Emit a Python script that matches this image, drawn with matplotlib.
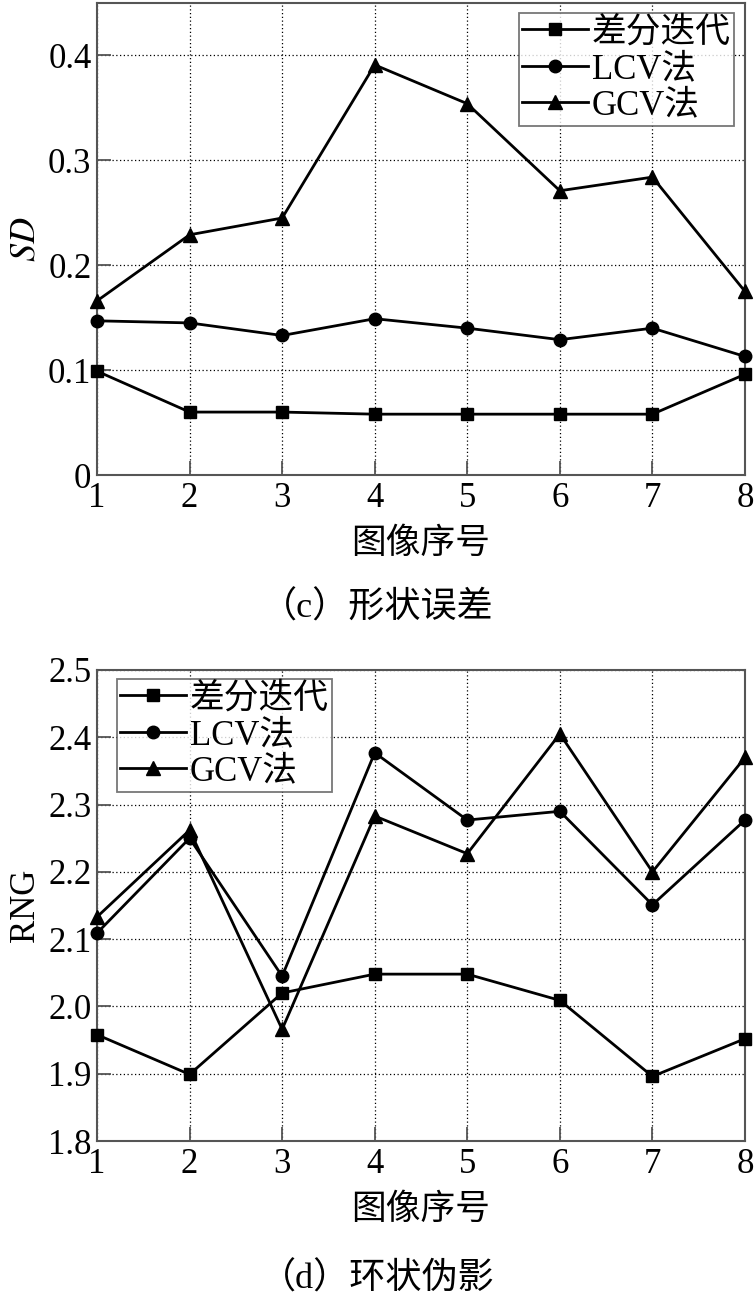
import matplotlib
matplotlib.use('Agg')
import matplotlib.pyplot as plt

plt.rcParams['font.family'] = ['Liberation Serif', 'Noto Sans CJK SC']
plt.rcParams['mathtext.fontset'] = 'stix'

x = [1, 2, 3, 4, 5, 6, 7, 8]
names = ['差分迭代', 'LCV法', 'GCV法']
marks = ['s', 'o', '^']

# (c) 形状误差
sd_diff = [0.099, 0.060, 0.060, 0.058, 0.058, 0.058, 0.058, 0.096]
sd_lcv = [0.147, 0.145, 0.133, 0.149, 0.140, 0.129, 0.140, 0.113]
sd_gcv = [0.166, 0.229, 0.245, 0.391, 0.354, 0.271, 0.284, 0.175]

# (d) 环状伪影
rng_diff = [1.958, 1.899, 2.020, 2.048, 2.048, 2.009, 1.896, 1.952]
rng_lcv = [2.109, 2.250, 2.045, 2.377, 2.277, 2.290, 2.151, 2.277]
rng_gcv = [2.133, 2.262, 1.966, 2.283, 2.227, 2.405, 2.200, 2.370]

W, H = 755, 1299
fig = plt.figure(figsize=(W / 100, H / 100), dpi=100)
ax1 = fig.add_axes([97 / W, 1 - 475 / H, 648 / W, 472 / H])
ax2 = fig.add_axes([97 / W, 1 - 1141 / H, 648 / W, 471 / H])


def style(ax):
    for s in ax.spines.values():
        s.set_color('#555555')
        s.set_linewidth(1.5)
    ax.grid(True, linestyle=(0, (1, 2)), color='black', linewidth=0.9)
    ax.tick_params(direction='in', length=10, width=1.3, color='#555555',
                   labelsize=25, top=False, right=False)
    ax.tick_params(axis='x', pad=5)
    ax.tick_params(axis='y', pad=4)
    ax.set_xlim(1, 8)
    ax.set_xticks(x)
    ax.set_xlabel('图像序号', fontsize=25, labelpad=9)


def legend(ax, anchor, loc):
    leg = ax.legend(loc=loc, bbox_to_anchor=anchor, fontsize=25, frameon=True,
                    fancybox=False, edgecolor='#555555', borderpad=0.1,
                    labelspacing=0.1, handlelength=1.9, handletextpad=0.1,
                    borderaxespad=0)
    leg.get_frame().set_linewidth(1.3)


sizes = [9, 9, 10]
for ys, m, n, ms in zip([sd_diff, sd_lcv, sd_gcv], marks, names, sizes):
    ax1.plot(x, ys, color='black', marker=m, markersize=ms, linewidth=2, label=n,
             clip_on=False, zorder=3)
style(ax1)
ax1.set_ylim(0, 0.45)
ax1.set_yticks([0, 0.1, 0.2, 0.3, 0.4])
ax1.set_yticklabels(['0', '0.1', '0.2', '0.3', '0.4'])
ax1.set_ylabel('$SD$', fontsize=26, labelpad=4)
legend(ax1, (1 - 11 / 648, 1 - 10 / 472), 'upper right')

for ys, m, n, ms in zip([rng_diff, rng_lcv, rng_gcv], marks, names, sizes):
    ax2.plot(x, ys, color='black', marker=m, markersize=ms, linewidth=2, label=n,
             clip_on=False, zorder=3)
style(ax2)
ax2.set_ylim(1.8, 2.5)
ax2.set_yticks([1.8, 1.9, 2.0, 2.1, 2.2, 2.3, 2.4, 2.5])
ax2.set_yticklabels(['1.8', '1.9', '2.0', '2.1', '2.2', '2.3', '2.4', '2.5'])
ax2.set_ylabel('RNG', fontsize=25, labelpad=4)
legend(ax2, (20 / 648, 1 - 9 / 471), 'upper left')

fig.text(377 / W, 1 - 618 / H, '（c）形状误差', ha='center', va='baseline', fontsize=26)
fig.text(377 / W, 1 - 1289 / H, '（d）环状伪影', ha='center', va='baseline', fontsize=26)

fig.savefig('out.png', dpi=100)
